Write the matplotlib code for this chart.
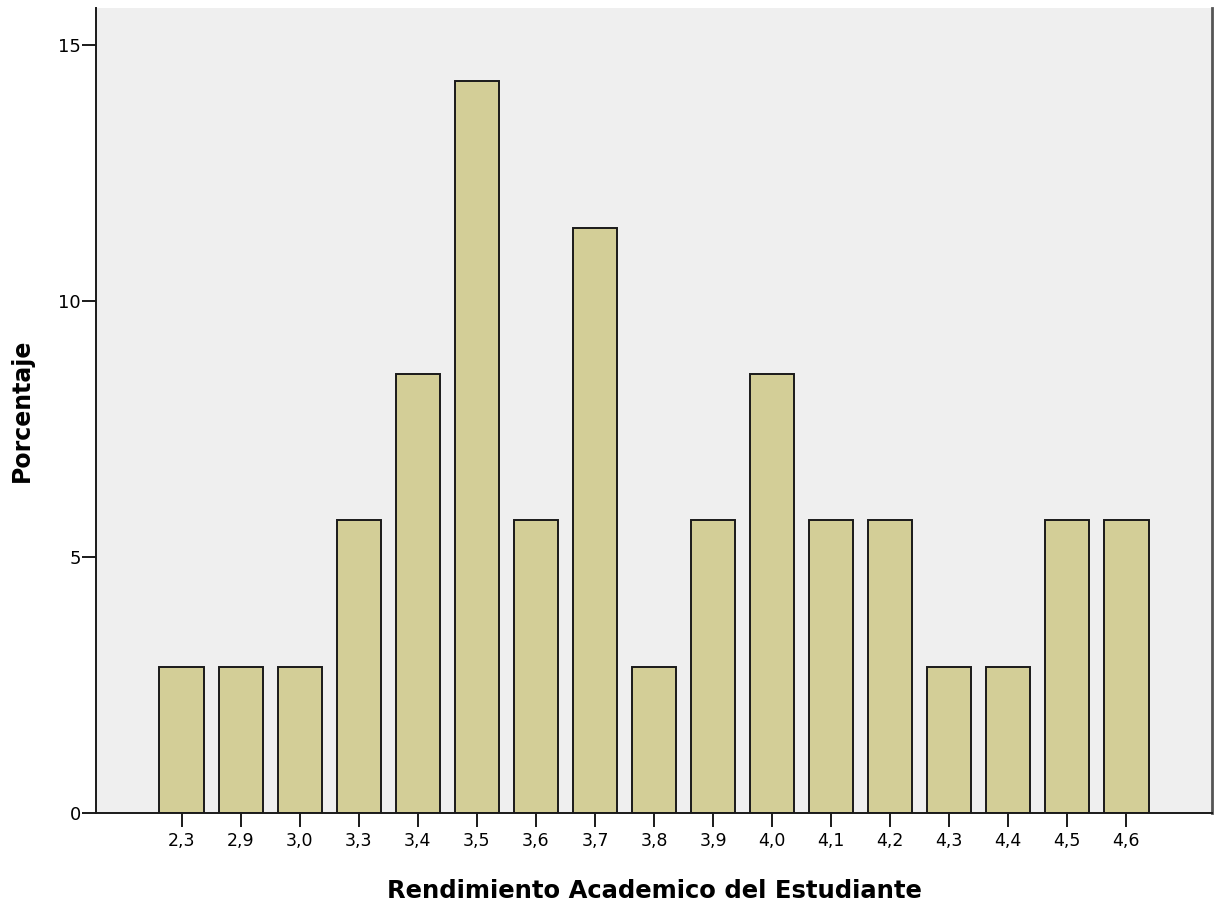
import matplotlib
matplotlib.use('Agg')
import matplotlib.pyplot as plt
import numpy as np

## data - percent of students per grade (35 students)
grades=['2,3','2,9','3,0','3,3','3,4','3,5','3,6','3,7','3,8','3,9','4,0','4,1','4,2','4,3','4,4','4,5','4,6']
percent=[2.857,2.857,2.857,5.714,8.571,14.286,5.714,11.429,2.857,5.714,8.571,5.714,5.714,2.857,2.857,5.714,5.714]
yticks=[0,5,10,15]

plt.rcParams['font.family']=['DejaVu Sans']

fig=plt.figure(figsize=(12.17,9.05),dpi=100)
ax=fig.add_axes([96/1217,92/905,(1212-96)/1217,(813-8)/905])
ax.set_facecolor('#efefef')

x=np.arange(len(grades))
ax.bar(x,percent,width=0.75,color='#d3ce97',edgecolor='#1a1a1a',linewidth=1.4,zorder=2)

ax.set_xlim(-1.45,len(grades)-1+1.45)
ax.set_ylim(0,15.72)
ax.set_xticks(x)
ax.set_xticklabels(grades,fontsize=12.5)
ax.set_yticks(yticks)
ax.set_yticklabels([str(i) for i in yticks],fontsize=13)
ax.tick_params(length=10,width=1.4,color='#1a1a1a')
ax.tick_params(axis='x',pad=4)
ax.tick_params(axis='y',pad=1)

ax.spines['top'].set_visible(False)
for s in ['left','bottom']:
    ax.spines[s].set_linewidth(1.4)
    ax.spines[s].set_color('#1a1a1a')
ax.spines['right'].set_linewidth(2)
ax.spines['right'].set_color('#555555')

ax.set_xlabel('Rendimiento Academico del Estudiante',fontsize=17.5,fontweight='bold')
ax.xaxis.set_label_coords(0.5,-0.082)
ax.set_ylabel('Porcentaje',fontsize=17,fontweight='bold')
ax.yaxis.set_label_coords(-0.056,0.5)

fig.savefig('out.png',dpi=100)
